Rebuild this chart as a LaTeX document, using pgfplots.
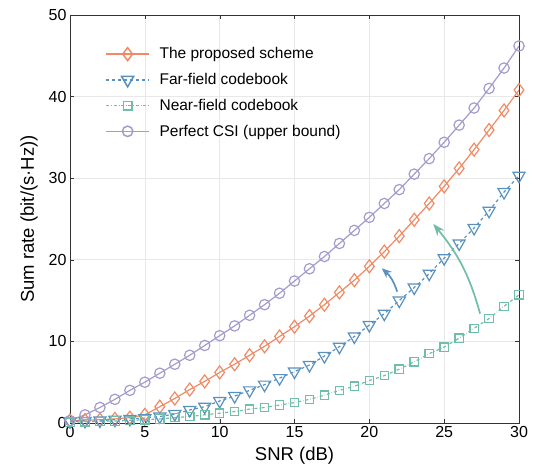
\documentclass[border=0pt]{standalone}
\usepackage{fontspec}
\setmainfont{Liberation Sans}
\usepackage{pgfplots}
\pgfplotsset{compat=1.18}
\usetikzlibrary{arrows.meta}
\definecolor{corange}{RGB}{240,138,100}
\definecolor{cblue}{RGB}{88,145,192}
\definecolor{cgreen}{RGB}{112,190,170}
\definecolor{cpurple}{RGB}{165,155,205}
\begin{document}
\begin{tikzpicture}
\begin{axis}[
 scale only axis, width=449pt, height=408pt,
 xmin=0, xmax=30, ymin=0, ymax=50,
 xtick={0,5,...,30}, ytick={0,10,...,50},
 grid=major, grid style={black!9, line width=0.6pt},
 axis line style={black!80, line width=0.9pt},
 tick align=inside, tick style={black!80},
 major tick length=4pt,
 xlabel={SNR (dB)}, ylabel={Sum rate (bit/(s·Hz))},
 /pgf/number format/assume math mode=true,
 ticklabel style={font=\fontsize{16}{19}\selectfont},
 label style={font=\fontsize{18.5}{22}\selectfont, inner sep=0pt},
 xlabel style={at={(rel axis cs:0.5,0)}, anchor=base, yshift=-38pt},
 ylabel style={at={(rel axis cs:0,0.5)}, anchor=south, yshift=32pt},
 legend style={draw=none, fill=none, at={(0.072,0.93)}, anchor=north west,
   font=\fontsize{15.5}{18}\selectfont, row sep=9pt},
 legend cell align=left,
 legend image code/.code={\draw[#1, line width=1.5pt, mark repeat=2,mark phase=2] plot coordinates {(0cm,0cm) (0.75cm,0cm) (1.5cm,0cm)};\path (1.5cm+8pt,0);},
]
\addplot[color=corange, solid, line width=1.2pt, mark=diamond, mark size=6.5pt, mark options={solid}] coordinates {
(0,0.3)(1,0.35)(2,0.4)(3,0.5)(4,0.65)(5,1.0)(6,2.0)(7,3.0)(8,4.1)(9,5.1)(10,6.2)
(11,7.2)(12,8.3)(13,9.4)(14,10.6)(15,11.8)(16,13.1)(17,14.5)(18,16.0)(19,17.5)(20,19.2)
(21,21.0)(22,22.9)(23,24.9)(24,26.9)(25,29.0)(26,31.2)(27,33.5)(28,35.9)(29,38.3)(30,40.8)};
\addlegendentry{The proposed scheme}
\addplot[color=cblue, dashed, line width=1.2pt, mark=triangle, mark size=7pt, mark options={solid, rotate=180}] coordinates {
(0,0.2)(1,0.25)(2,0.3)(3,0.4)(4,0.5)(5,0.6)(6,0.8)(7,1.1)(8,1.6)(9,2.0)(10,2.7)
(11,3.3)(12,4.0)(13,4.7)(14,5.5)(15,6.3)(16,7.1)(17,8.2)(18,9.35)(19,10.6)(20,12.0)
(21,13.4)(22,15.0)(23,16.6)(24,18.3)(25,20.2)(26,22.0)(27,23.9)(28,26.0)(29,28.3)(30,30.3)};
\addlegendentry{Far-field codebook}
\addplot[color=cgreen, dash dot, line width=1.2pt, mark=square, mark size=4.2pt, mark options={solid}] coordinates {
(0,0.1)(1,0.15)(2,0.2)(3,0.25)(4,0.3)(5,0.4)(6,0.5)(7,0.65)(8,0.8)(9,1.0)(10,1.2)
(11,1.4)(12,1.7)(13,1.9)(14,2.2)(15,2.5)(16,2.9)(17,3.4)(18,4.0)(19,4.5)(20,5.2)
(21,5.8)(22,6.6)(23,7.5)(24,8.5)(25,9.3)(26,10.4)(27,11.6)(28,12.8)(29,14.3)(30,15.7)};
\addlegendentry{Near-field codebook}
\addplot[color=cpurple, solid, line width=1.2pt, mark=o, mark size=5.2pt] coordinates {
(0,0.3)(1,1.0)(2,1.9)(3,2.9)(4,4.0)(5,5.0)(6,6.1)(7,7.2)(8,8.3)(9,9.5)(10,10.7)
(11,11.9)(12,13.2)(13,14.5)(14,15.9)(15,17.4)(16,18.9)(17,20.4)(18,22.0)(19,23.6)(20,25.2)
(21,26.9)(22,28.6)(23,30.5)(24,32.4)(25,34.4)(26,36.5)(27,38.6)(28,41.0)(29,43.5)(30,46.2)};
\addlegendentry{Perfect CSI (upper bound)}
\draw[cblue, line width=1.7pt, -{Stealth[length=10pt,width=8pt]}] (axis cs:21.86,16.1) to[bend right=15] (axis cs:20.83,18.96);
\draw[cgreen, line width=1.7pt, -{Stealth[length=12pt,width=9pt]}] (axis cs:27.4,13.4) to[bend right=12] (axis cs:24.27,24.4);
\coordinate (ll) at (rel axis cs:0,0);
\coordinate (ur) at (rel axis cs:1,1);
\end{axis}
\path ([shift={(-70pt,-46pt)}]ll) rectangle ([shift={(15pt,15pt)}]ur);
\end{tikzpicture}
\end{document}
